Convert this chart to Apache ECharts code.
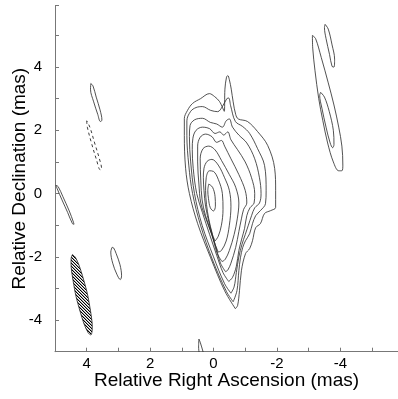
<!DOCTYPE html>
<html><head><meta charset="utf-8">
<script src="https://cdn.jsdelivr.net/npm/echarts@6/dist/echarts.min.js"></script>
<style>html,body{margin:0;padding:0;background:#fff}#c{width:398px;height:399px}</style>
</head><body><div id="c"></div>
<script>
// tick positions and labels
const xTickValues = [5, 4, 3, 2, 1, 0, -1, -2, -3, -4, -5];
const xTickLabels = [4, 2, 0, -2, -4];
const yTickLabels = [-4, -2, 0, 2, 4];

// main source contours (RA offset, Dec offset in mas), outermost first
const core1 = [[-0.69,-3.64],[-0.35,-3.07],[0.09,-2.03],[0.5,-0.95],[0.76,0.0],[0.88,0.8],[0.92,1.84],[0.92,2.37],[0.82,2.63],[0.66,2.85],[0.41,3.0],[0.13,3.16],[-0.03,3.07],[-0.19,2.91],[-0.34,2.6],[-0.36,3.3],[-0.41,3.68],[-0.45,3.73],[-0.5,3.6],[-0.56,3.3],[-0.62,2.9],[-0.7,2.5],[-0.78,2.36],[-1.07,2.28],[-1.39,1.96],[-1.71,1.52],[-1.93,0.79],[-1.96,0.09],[-1.96,-0.44],[-1.8,-0.54],[-1.61,-0.63],[-1.48,-0.95],[-1.33,-1.08],[-1.23,-1.49],[-1.14,-1.74],[-1.01,-1.9],[-0.88,-2.44],[-0.82,-3.07],[-0.76,-3.54],[-0.69,-3.64]];
const core2 = [[-0.62,-3.42],[-0.41,-3.1],[0.03,-2.1],[0.41,-1.0],[0.66,0.0],[0.78,0.9],[0.84,1.84],[0.84,2.3],[0.72,2.6],[0.55,2.72],[0.35,2.75],[0.09,2.63],[-0.13,2.59],[-0.28,2.75],[-0.42,3.0],[-0.48,3.02],[-0.54,2.78],[-0.69,2.28],[-0.92,2.12],[-1.14,1.9],[-1.39,1.42],[-1.61,0.89],[-1.66,0.09],[-1.64,-0.32],[-1.48,-0.54],[-1.33,-0.7],[-1.23,-0.95],[-1.14,-1.27],[-1.01,-1.49],[-0.92,-1.71],[-0.85,-2.03],[-0.8,-2.44],[-0.74,-3.07],[-0.62,-3.42]];
const core3 = [[-0.55,-3.15],[-0.35,-2.85],[0.0,-2.0],[0.36,-1.0],[0.6,0.0],[0.72,1.0],[0.76,1.8],[0.74,2.15],[0.6,2.33],[0.35,2.38],[0.1,2.25],[-0.1,2.2],[-0.28,2.1],[-0.4,2.3],[-0.5,2.36],[-0.6,2.1],[-0.8,1.85],[-1.05,1.6],[-1.3,1.1],[-1.45,0.5],[-1.5,0.0],[-1.45,-0.3],[-1.3,-0.45],[-1.2,-0.7],[-1.1,-1.0],[-1.0,-1.3],[-0.9,-1.6],[-0.8,-2.0],[-0.72,-2.5],[-0.65,-2.95],[-0.55,-3.15]];
const core4 = [[-0.48,-2.78],[-0.3,-2.5],[-0.1,-1.95],[0.12,-1.3],[0.35,-0.6],[0.53,0.0],[0.64,0.8],[0.67,1.4],[0.65,1.75],[0.55,2.0],[0.35,2.1],[0.12,2.05],[-0.05,1.9],[-0.2,1.95],[-0.32,1.85],[-0.45,1.95],[-0.55,1.7],[-0.75,1.4],[-1.0,1.0],[-1.2,0.5],[-1.3,0.0],[-1.28,-0.3],[-1.15,-0.45],[-1.05,-0.7],[-0.98,-1.1],[-0.9,-1.4],[-0.8,-1.8],[-0.72,-2.3],[-0.6,-2.65],[-0.48,-2.78]];
const core5 = [[-0.38,-2.47],[-0.22,-2.2],[-0.05,-1.6],[0.2,-0.9],[0.4,-0.3],[0.46,0.3],[0.5,1.0],[0.5,1.5],[0.42,1.78],[0.25,1.88],[0.05,1.8],[-0.1,1.62],[-0.25,1.68],[-0.35,1.5],[-0.55,1.1],[-0.8,0.6],[-1.0,0.1],[-1.05,-0.3],[-0.95,-0.5],[-0.88,-0.8],[-0.8,-1.2],[-0.7,-1.7],[-0.55,-2.2],[-0.45,-2.42],[-0.38,-2.47]];
const core6 = [[-0.27,-2.15],[-0.12,-1.9],[0.05,-1.3],[0.25,-0.7],[0.36,-0.2],[0.4,0.4],[0.42,1.1],[0.33,1.42],[0.15,1.5],[-0.05,1.38],[-0.25,1.05],[-0.5,0.6],[-0.7,0.2],[-0.8,-0.3],[-0.75,-0.8],[-0.65,-1.3],[-0.5,-1.8],[-0.37,-2.08],[-0.27,-2.15]];
const core7 = [[-0.15,-1.85],[-0.05,-1.6],[0.12,-1.0],[0.25,-0.4],[0.3,0.1],[0.32,0.5],[0.3,0.8],[0.2,1.02],[0.05,1.08],[-0.15,0.9],[-0.35,0.5],[-0.5,0.1],[-0.55,-0.4],[-0.5,-1.0],[-0.4,-1.5],[-0.25,-1.8],[-0.15,-1.85]];
const core8 = [[-0.05,-1.5],[0.03,-1.3],[0.15,-0.8],[0.22,-0.35],[0.25,0.1],[0.23,0.5],[0.13,0.72],[0.0,0.7],[-0.15,0.45],[-0.28,0.0],[-0.3,-0.5],[-0.25,-1.0],[-0.15,-1.35],[-0.05,-1.5]];
const core9 = [[0.15,0.3],[0.03,0.2],[-0.05,-0.1],[-0.06,-0.4],[0.0,-0.55],[0.1,-0.45],[0.16,-0.15],[0.18,0.1],[0.15,0.3]];

// secondary components
const edgeBlob = [[4.97,0.26],[4.9,0.22],[4.75,-0.1],[4.55,-0.55],[4.42,-0.9],[4.4,-0.97],[4.45,-0.95],[4.6,-0.6],[4.78,-0.2],[4.93,0.15],[4.97,0.26]];
const smallBlob = [[3.2,-1.7],[3.24,-1.85],[3.18,-2.2],[3.05,-2.55],[2.94,-2.72],[2.9,-2.6],[2.95,-2.25],[3.07,-1.9],[3.15,-1.72],[3.2,-1.7]];
const upperLeftBlob = [[3.87,3.48],[3.88,3.3],[3.78,2.9],[3.65,2.5],[3.57,2.28],[3.52,2.32],[3.58,2.65],[3.7,3.05],[3.8,3.4],[3.87,3.48]];
const negativeBlob = [[4.0,2.3],[3.98,2.1],[3.85,1.6],[3.7,1.1],[3.57,0.75],[3.53,0.78],[3.6,1.1],[3.75,1.6],[3.9,2.1],[4.0,2.3]];
const farTop = [[-3.52,5.35],[-3.62,5.2],[-3.74,4.7],[-3.82,4.25],[-3.8,4.0],[-3.74,4.02],[-3.66,4.4],[-3.55,4.9],[-3.5,5.25],[-3.52,5.35]];
const farOuter = [[-3.12,5.0],[-3.13,4.6],[-3.2,3.9],[-3.32,3.0],[-3.45,2.3],[-3.6,1.6],[-3.78,1.0],[-3.95,0.72],[-4.05,0.72],[-4.08,0.9],[-4.05,1.5],[-3.95,2.1],[-3.8,2.8],[-3.62,3.5],[-3.4,4.3],[-3.22,4.9],[-3.12,5.0]];
const farInner = [[-3.38,3.2],[-3.5,3.05],[-3.65,2.6],[-3.78,2.0],[-3.8,1.55],[-3.76,1.45],[-3.68,1.6],[-3.55,2.1],[-3.42,2.7],[-3.35,3.1],[-3.38,3.2]];
const bottomTip = [[0.46,-4.6],[0.42,-4.7],[0.33,-5.0],[0.28,-5.2],[0.38,-5.2],[0.47,-4.85],[0.46,-4.6]];

// restoring beam
const beam = [[4.45,-1.93],[4.49,-2.04],[4.49,-2.33],[4.43,-2.75],[4.34,-3.24],[4.21,-3.72],[4.08,-4.13],[3.96,-4.39],[3.87,-4.47],[3.83,-4.36],[3.83,-4.07],[3.89,-3.65],[3.98,-3.16],[4.11,-2.68],[4.24,-2.27],[4.36,-2.01],[4.45,-1.93]];

const solidContours = [core1, core2, core3, core4, core5, core6, core7, core8, core9,
  edgeBlob, smallBlob, upperLeftBlob, farTop, farOuter, farInner, bottomTip];

const pc = document.createElement('canvas');
pc.width = 3; pc.height = 3;
const g = pc.getContext('2d');
g.fillStyle = '#000';
for (let i = 0; i < 3; i++) g.fillRect(i, i, 1, 1);
g.fillStyle = 'rgba(0,0,0,0.35)';
for (let i = 0; i < 3; i++) g.fillRect((i + 1) % 3, i, 1, 1);
const hatch = { image: pc, repeat: 'repeat' };

const lineColor = '#262626';
const series = solidContours.map(d => ({
  type: 'line', data: d, showSymbol: false, symbol: 'none', smooth: 0.35,
  lineStyle: { color: lineColor, width: 0.8 }, silent: true, clip: true, z: 3
}));
series.push({
  type: 'line', data: negativeBlob, showSymbol: false, symbol: 'none', smooth: 0.35,
  lineStyle: { color: lineColor, width: 0.9, type: [3, 3] }, silent: true, clip: true, z: 3
});
series.push({
  type: 'custom', data: beam, silent: true, clip: true, z: 4,
  renderItem: function (params, api) {
    if (params.dataIndex !== 0) return null;
    const pts = beam.map(p => api.coord(p));
    return { type: 'polygon', shape: { points: pts, smooth: 0.3 },
      style: { fill: hatch, stroke: '#222', lineWidth: 0.8 } };
  }
});

const font = 'Liberation Sans, Arial, Helvetica, sans-serif';
const chart = echarts.init(document.getElementById('c'), null, { renderer: 'canvas' });
chart.setOption({
  animation: false,
  backgroundColor: '#fff',
  grid: { left: 55, top: 5.7, right: 0, height: 346, containLabel: false, outerBoundsMode: 'none' },
  xAxis: {
    type: 'value', min: -5.82, max: 5, inverse: true,
    name: 'Relative Right Ascension (mas)', nameLocation: 'middle', nameGap: 20, nameMoveOverlap: false,
    nameTextStyle: { fontSize: 19, color: '#000', fontFamily: font },
    axisLine: { show: true, onZero: false, lineStyle: { color: '#777', width: 1 } },
    axisTick: { show: true, inside: true, length: 4, lineStyle: { color: '#777' }, customValues: xTickValues },
    splitLine: { show: false },
    axisLabel: { fontSize: 15, color: '#000', fontFamily: font, margin: 5, customValues: xTickLabels,
      formatter: v => String(v) }
  },
  yAxis: {
    type: 'value', min: -5, max: 5.94, interval: 1,
    name: 'Relative Declination (mas)', nameLocation: 'middle', nameGap: 26, nameMoveOverlap: false,
    nameTextStyle: { fontSize: 19, color: '#000', fontFamily: font },
    axisLine: { show: true, onZero: false, lineStyle: { color: '#777', width: 1 } },
    axisTick: { show: true, inside: true, length: 4, lineStyle: { color: '#777' } },
    splitLine: { show: false },
    axisLabel: { fontSize: 15, color: '#000', fontFamily: font, margin: 13,
      formatter: v => yTickLabels.includes(v) ? String(v) : '' }
  },
  series: series
});
</script>
</body></html>
